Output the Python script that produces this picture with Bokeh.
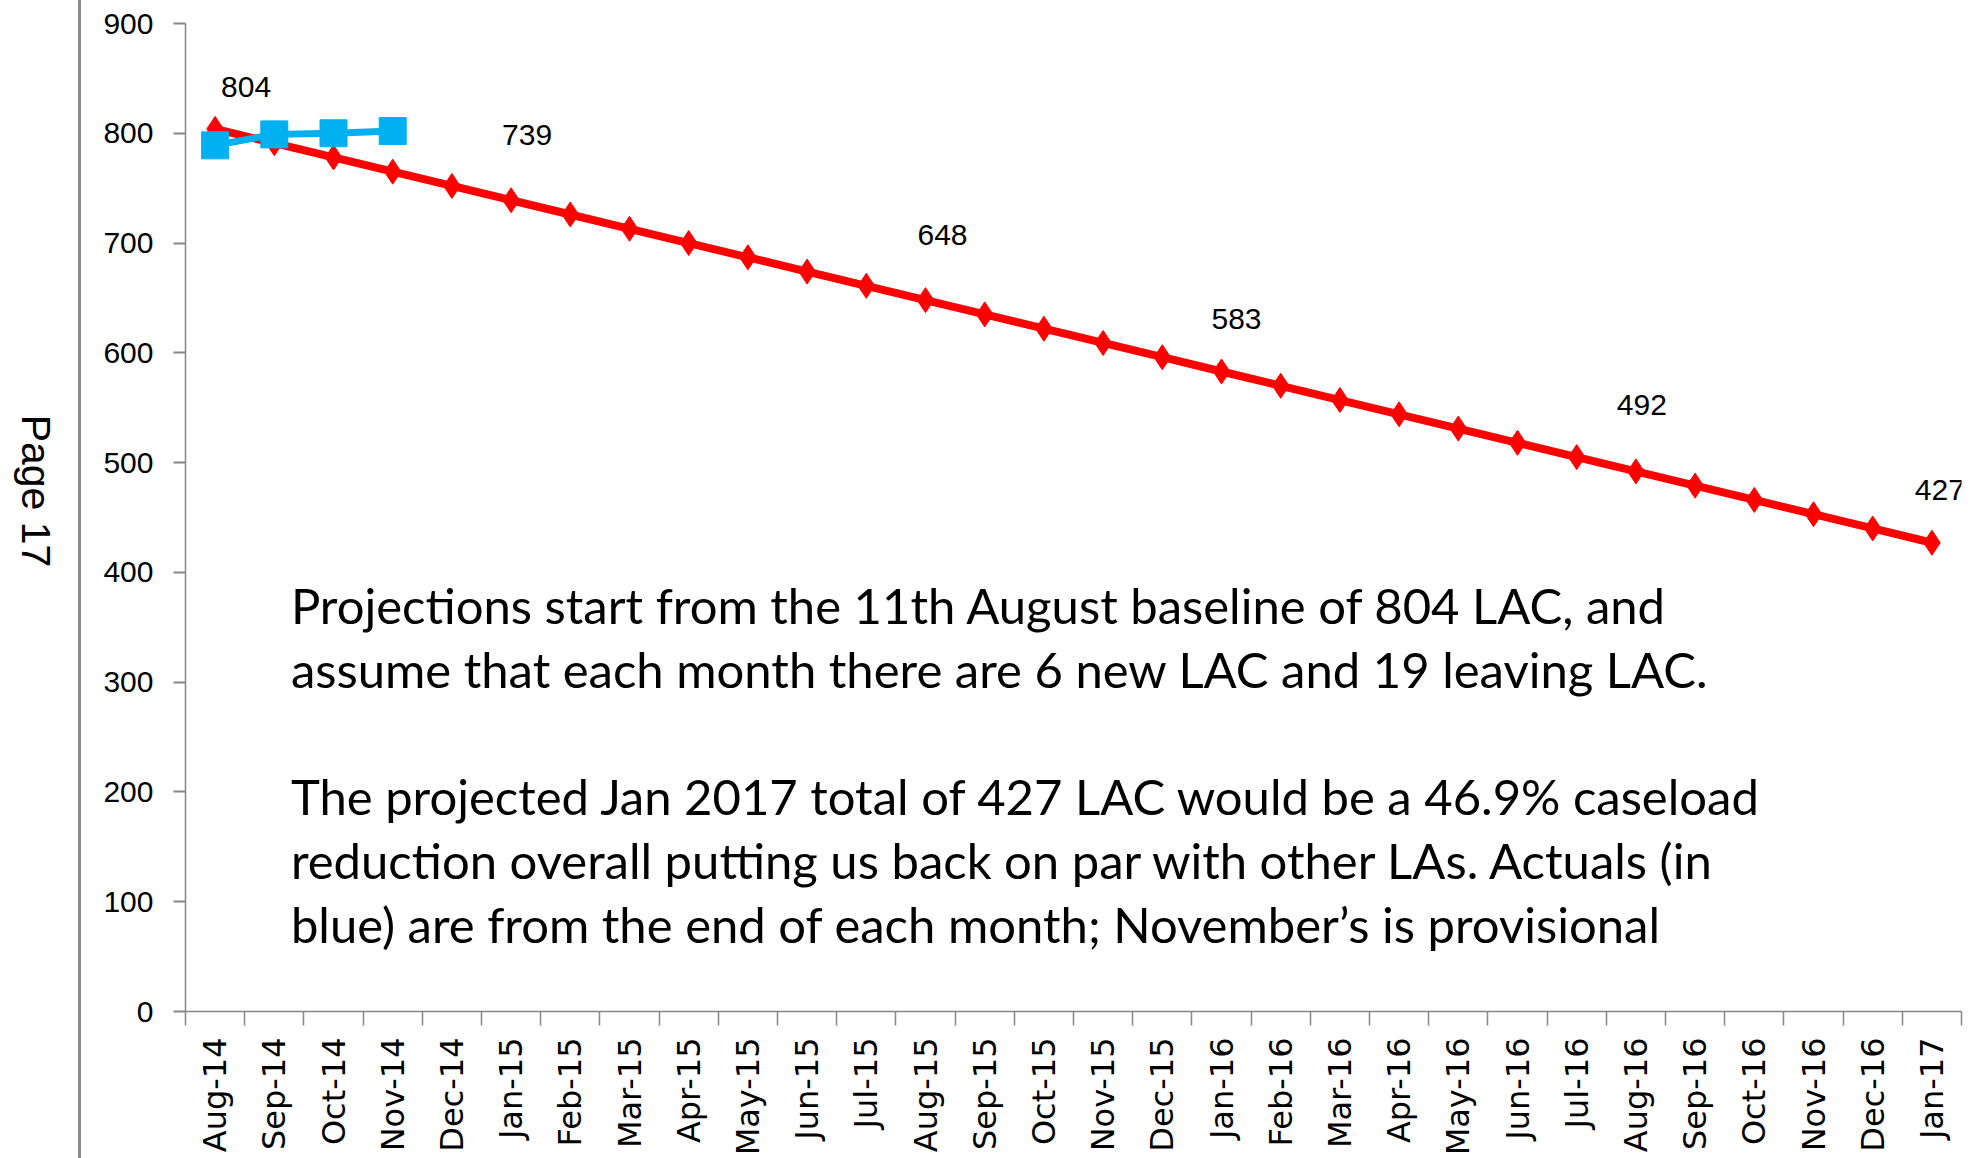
import math
from bokeh.plotting import figure
from bokeh.layouts import row
from bokeh.models import Range1d, FixedTicker, ColumnDataSource, Div
from bokeh.core.properties import value
from bokeh.embed import file_html
from bokeh.resources import INLINE

# ---------------- data ----------------
MONTHS = ["Aug-14", "Sep-14", "Oct-14", "Nov-14", "Dec-14", "Jan-15", "Feb-15",
          "Mar-15", "Apr-15", "May-15", "Jun-15", "Jul-15", "Aug-15", "Sep-15",
          "Oct-15", "Nov-15", "Dec-15", "Jan-16", "Feb-16", "Mar-16", "Apr-16",
          "May-16", "Jun-16", "Jul-16", "Aug-16", "Sep-16", "Oct-16", "Nov-16",
          "Dec-16", "Jan-17"]
PROJECTED = [804, 791, 778, 765, 752, 739, 726, 713, 700, 687, 674, 661, 648,
             635, 622, 609, 596, 583, 570, 557, 544, 531, 518, 505, 492, 479,
             466, 453, 440, 427]
ACTUAL_MONTHS = ["Aug-14", "Sep-14", "Oct-14", "Nov-14"]
ACTUAL = [789, 799, 800, 802]
LABEL_MONTHS = ["Aug-14", "Jan-15", "Aug-15", "Jan-16", "Aug-16", "Jan-17"]
Y_TICKS = [0, 100, 200, 300, 400, 500, 600, 700, 800, 900]
NOTE_LINES = [
    "Projections start from the 11th August baseline of 804 LAC, and",
    "assume that each month there are 6 new LAC and 19 leaving LAC.",
    "",
    "The projected Jan 2017 total of 427 LAC would be a 46.9% caseload",
    "reduction overall putting us back on par with other LAs. Actuals (in",
    "blue) are from the end of each month; November\u2019s is provisional",
]
PAGE_TEXT = "Page 17"

# ---------------- styles / placement ----------------
LABEL_DX = [31, 16, 17, 15, 6, 8]          # px to the right
LABEL_DY = [-42, -65, -65, -52, -66, -53]  # px (negative = up)
RED = "#FF0000"
BLUE = "#00B0F0"
AXIS_GRAY = "#868686"
NUM_FONT = "Liberation Sans"
TOTAL_W, TOTAL_H = 1975, 1158
SIDE_W = 100

# ---------------- side strip (page margin with page number) ----------------
side_html = (
    f'<div style="position:relative;width:{SIDE_W}px;height:{TOTAL_H}px;">'
    f'<div style="position:absolute;left:77.5px;top:0px;width:3.5px;height:{TOTAL_H}px;'
    'background:#8C8C8C;"></div>'
    '<div style="position:absolute;left:35px;top:491px;transform:translate(-50%,-50%) rotate(90deg);'
    "font-family:'Liberation Sans';font-size:41px;line-height:1;color:black;white-space:nowrap;\">"
    f'{PAGE_TEXT}</div></div>'
)
side = Div(text=side_html, width=SIDE_W, height=TOTAL_H, margin=0)

# ---------------- main chart ----------------
pos = {m: i + 0.5 for i, m in enumerate(MONTHS)}
x_proj = [pos[m] for m in MONTHS]
x_act = [pos[m] for m in ACTUAL_MONTHS]

p = figure(width=TOTAL_W - SIDE_W, height=TOTAL_H, output_backend="svg",
           toolbar_location=None,
           x_range=Range1d(0, len(MONTHS)), y_range=Range1d(0, 900),
           min_border_left=182 - SIDE_W, min_border_right=14, min_border_top=23,
           min_border_bottom=146)
p.outline_line_color = None
p.xgrid.visible = False
p.ygrid.visible = False
p.background_fill_color = "white"
p.border_fill_color = "white"

# y axis
ya = p.yaxis[0]
ya.ticker = FixedTicker(ticks=Y_TICKS)
ya.axis_line_color = AXIS_GRAY
ya.axis_line_width = 1.5
ya.major_tick_line_color = AXIS_GRAY
ya.major_tick_line_width = 2
ya.major_tick_out = 12
ya.major_tick_in = 0
ya.minor_tick_line_color = None
ya.major_label_text_font = NUM_FONT
ya.major_label_text_font_size = "30px"
ya.major_label_text_color = "black"
ya.major_label_standoff = 20

# x axis
xa = p.xaxis[0]
xa.ticker = FixedTicker(ticks=x_proj, minor_ticks=list(range(len(MONTHS) + 1)))
xa.major_label_overrides = {pos[m]: m for m in MONTHS}
xa.axis_line_color = AXIS_GRAY
xa.axis_line_width = 1.5
xa.major_tick_line_color = None
xa.major_tick_out = 0
xa.major_tick_in = 0
xa.minor_tick_line_color = AXIS_GRAY
xa.minor_tick_line_width = 1.5
xa.minor_tick_out = 14
xa.minor_tick_in = 0
xa.major_label_orientation = math.pi / 2
xa.major_label_text_font = "DejaVu Sans"
xa.major_label_text_font_size = "32px"
xa.major_label_text_color = "black"
xa.major_label_standoff = 12

# series
p.line(x_proj, PROJECTED, line_color=RED, line_width=8)
p.scatter(x_proj, PROJECTED, marker="diamond", size=25, fill_color=RED, line_color=RED)
p.line(x_act, ACTUAL, line_color=BLUE, line_width=7)
p.scatter(x_act, ACTUAL, marker="square", size=27, fill_color=BLUE, line_color=BLUE)

# data labels
lab_src = ColumnDataSource(dict(
    x=[pos[m] for m in LABEL_MONTHS],
    y=[PROJECTED[MONTHS.index(m)] for m in LABEL_MONTHS],
    t=[str(PROJECTED[MONTHS.index(m)]) for m in LABEL_MONTHS],
    dx=LABEL_DX, dy=LABEL_DY))
p.text(x="x", y="y", text="t", x_offset="dx", y_offset="dy", source=lab_src,
       text_font=value(NUM_FONT), text_font_size="30px", text_color="black",
       text_align="center", text_baseline="middle")

# note text
NOTE_X = 1.78
NOTE_Y0 = 370.5
NOTE_STEP = 58.2
p.text(x=[NOTE_X] * len(NOTE_LINES),
       y=[NOTE_Y0 - i * NOTE_STEP for i in range(len(NOTE_LINES))],
       text=NOTE_LINES, text_font=value("Lato"), text_font_size="49px",
       text_color="black", text_align="left", text_baseline="alphabetic")

layout = row(side, p, spacing=0)
open("out.html", "w").write(file_html(layout, INLINE))
